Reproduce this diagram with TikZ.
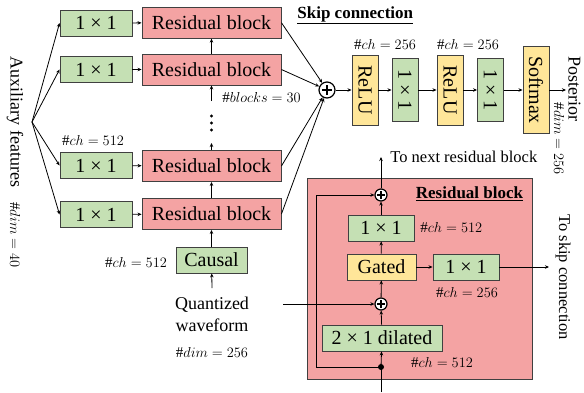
\documentclass[tikz,border=0pt]{standalone}
\usepackage{fontspec}
\setmainfont{Liberation Serif}
\usetikzlibrary{arrows.meta,calc}
\definecolor{gfill}{HTML}{C5E0B4}
\definecolor{rfill}{HTML}{F4A3A3}
\definecolor{yfill}{HTML}{FFE699}
\definecolor{bord}{HTML}{404040}
\newcommand\myplus[4]{%
  \node[plusc,minimum size=#4*2pt] (#1) at (#2,#3) {};
  \draw[line width=1.3pt] (#2-#4*0.6,#3) -- (#2+#4*0.6,#3) (#2,#3-#4*0.6) -- (#2,#3+#4*0.6);}
\begin{document}
\begin{tikzpicture}[x=1pt,y=-1pt,
  >={Stealth[length=4pt,width=3.5pt]},
  line width=0.8pt,
  box/.style={draw=bord,line width=0.9pt,inner sep=0pt,font=\fontsize{20}{22}\selectfont},
  gbox/.style={box,fill=gfill},
  rbox/.style={box,fill=rfill},
  ybox/.style={box,fill=yfill},
  lbl/.style={font=\fontsize{15}{17}\selectfont,inner sep=0pt},
  txt/.style={font=\fontsize{18}{20}\selectfont,inner sep=0pt},
  ttl/.style={font=\fontsize{17}{19}\selectfont\bfseries,inner sep=0pt},
  plusc/.style={circle,draw,line width=1.2pt,fill=white,inner sep=0pt},
  conn/.style={->}]
\useasboundingbox (0,0) rectangle (584,392);

% big residual block background
\draw[draw=bord,line width=0.8pt,fill=rfill] (307,178) rectangle (532,379);

% left column
\node[gbox,minimum width=72pt,minimum height=26pt] (g1) at (96,23) {1 × 1};
\node[gbox,minimum width=72pt,minimum height=26pt] (g2) at (96,69.5) {1 × 1};
\node[gbox,minimum width=72pt,minimum height=26pt] (g3) at (96,165.5) {1 × 1};
\node[gbox,minimum width=72pt,minimum height=26pt] (g4) at (96,214.5) {1 × 1};
\node[rbox,minimum width=139pt,minimum height=31pt] (r1) at (211.5,22.7) {Residual block};
\node[rbox,minimum width=139pt,minimum height=31pt] (r2) at (211.5,69.5) {Residual block};
\node[rbox,minimum width=139pt,minimum height=31pt] (r3) at (211.5,166) {Residual block};
\node[rbox,minimum width=139pt,minimum height=31pt] (r4) at (211.5,214) {Residual block};
\node[gbox,minimum width=71pt,minimum height=26pt] (causal) at (211.5,260) {Causal};
\node[txt,align=center] (quant) at (212,314.5) {Quantized\\[2pt]waveform};
\node[lbl] (qdim) at (212,352) {$\#dim=256$};
\node[lbl] (cch) at (136,262) {$\#ch=512$};
\node[lbl] (g3ch) at (93,140) {$\#ch=512$};
\node[txt,rotate=-90] (aux) at (15,122) {Auxiliary features};
\node[lbl,rotate=-90] (auxdim) at (15,235) {$\#dim=40$};
\coordinate (fan) at (32,122);
\foreach \g in {g1,g2,g3,g4} \draw[conn] (fan) -- (\g.west);
\draw[conn] (g1) -- (r1);
\draw[conn] (g2) -- (r2);
\draw[conn] (g3) -- (r3);
\draw[conn] (g4) -- (r4);
\draw[conn] (causal) -- (r4);
\draw[conn] (quant.north |- 0,288) coordinate (qtop) -- (causal);
\draw[conn] (r4) -- (r3);
\coordinate (d1) at (211.5,143);
\draw[conn] (r3.north) -- (d1);
\fill (211.5,116) circle (1.6) (211.5,123) circle (1.6) (211.5,130) circle (1.6);
\coordinate (d2) at (211.5,101);
\draw[conn] (d2) -- (r2.south);
\node[lbl,anchor=west] (nb) at (222,97) {$\#blocks=30$};
\draw[conn] (r2) -- (r1);

% skip connection
\node[ttl,anchor=west] (skipt) at (297,15) {\underline{Skip connection}};
\myplus{sp}{327}{90}{8}
\foreach \r in {r1,r2,r3,r4} \draw[conn] (\r.east) -- (sp);
\node[ybox,rotate=-90,minimum width=70pt,minimum height=26pt] (relu1) at (365,90) {ReLU};
\node[gbox,rotate=-90,minimum width=63pt,minimum height=26pt] (c1) at (405,90) {1 × 1};
\node[ybox,rotate=-90,minimum width=70pt,minimum height=26pt] (relu2) at (450,90) {ReLU};
\node[gbox,rotate=-90,minimum width=63pt,minimum height=26pt] (c2) at (490.5,90) {1 × 1};
\node[ybox,rotate=-90,minimum width=87pt,minimum height=26pt] (soft) at (536,90) {Softmax};
\node[lbl] (ch1) at (385,44) {$\#ch=256$};
\node[lbl] (ch2) at (468,44) {$\#ch=256$};
\draw[conn] (sp) -- (relu1);
\draw[conn] (relu1) -- (c1);
\draw[conn] (c1) -- (relu2);
\draw[conn] (relu2) -- (c2);
\draw[conn] (c2) -- (soft);
\coordinate (post) at (566,90);
\draw[conn] (soft) -- (post);
\node[txt,rotate=-90] (postt) at (574.5,89) {Posterior};
\node[lbl,rotate=-90] (postd) at (559,139) {$\#dim=256$};

% residual block detail
\node[ttl] (rbt) at (469.5,194) {\underline{Residual block}};
\myplus{tp}{381}{195}{6}
\myplus{mp}{381}{304}{6}
\node[gbox,minimum width=66pt,minimum height=26pt] (b11) at (381,228) {1 × 1};
\node[lbl,anchor=west] (b11ch) at (420,227) {$\#ch=512$};
\node[ybox,minimum width=69pt,minimum height=26pt] (gated) at (381.5,267) {Gated};
\node[gbox,minimum width=66pt,minimum height=26pt] (s11) at (466,267) {1 × 1};
\node[lbl] (s11ch) at (467,292) {$\#ch=256$};
\node[gbox,minimum width=120pt,minimum height=26pt] (dil) at (382,338) {2 × 1 dilated};
\node[lbl] (dilch) at (442,362) {$\#ch=512$};
\fill (381,367) circle (3) coordinate (dot);
\coordinate (bin) at (381,392);
\coordinate (next) at (381,157);
\node[txt,font=\fontsize{16.5}{18}\selectfont,anchor=west] (nextt) at (390,157) {To next residual block};
\coordinate (skipout) at (549,267);
\node[txt,font=\fontsize{16.5}{18}\selectfont,rotate=-90] (skipt2) at (563,277) {To skip connection};
\coordinate (qin) at (283,304);
\draw (bin) -- (dot);
\draw[conn] (dot) -- (dil);
\draw[conn] (dil) -- (mp);
\draw[conn] (qin) -- (mp);
\draw[conn] (mp) -- (gated);
\draw[conn] (gated) -- (b11);
\draw[conn] (b11) -- (tp);
\draw[conn] (gated) -- (s11);
\draw[conn] (s11) -- (skipout);
\draw[conn] (tp) -- (next);
\draw[conn] (dot) -- (316,367) -- (316,195) -- (tp);
\end{tikzpicture}
\end{document}
